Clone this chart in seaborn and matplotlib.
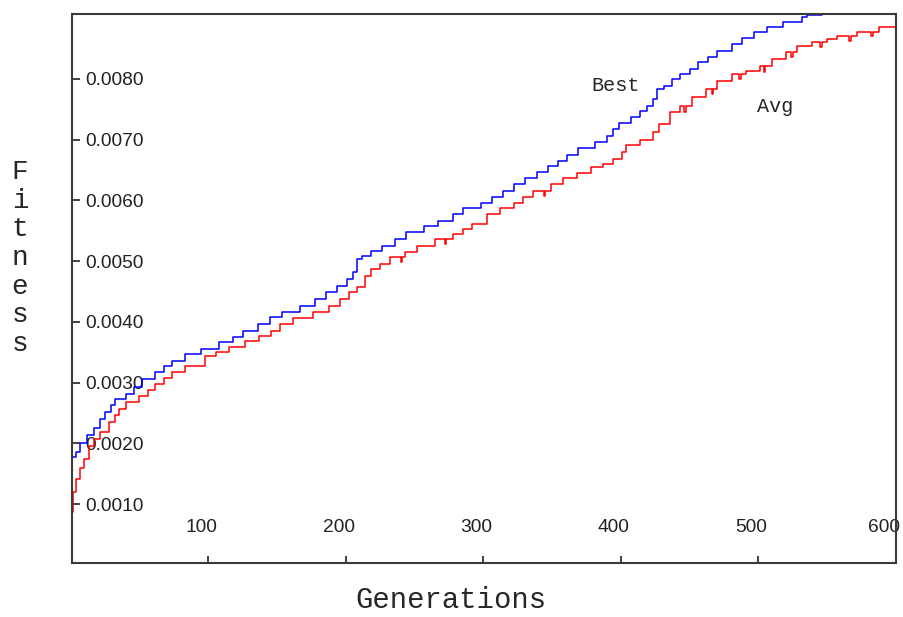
import matplotlib
matplotlib.use("Agg")
import matplotlib.pyplot as plt
import matplotlib.transforms as mtrans
import pandas as pd
import seaborn as sns

# Best fitness per generation (steps)
best_gen = [0, 4, 7, 12, 17, 21, 25, 29, 32, 40, 46, 52, 61, 68, 74, 83, 95, 108, 118,
            125, 136, 145, 154, 167, 178, 186, 194, 201, 205, 208, 212, 218, 226, 236,
            244, 257, 267, 278, 285, 298, 306, 314, 322, 330, 339, 347, 354, 361, 369,
            381, 390, 394, 399, 407, 414, 419, 423, 426, 431, 437, 443, 450, 456, 463,
            470, 481, 488, 497, 506, 518, 532, 535, 546]
best_fit = [0.00177, 0.00185, 0.00200, 0.00213, 0.00226, 0.00240, 0.00252, 0.00263,
            0.00273, 0.00281, 0.00292, 0.00306, 0.00317, 0.00327, 0.00336, 0.00347,
            0.00356, 0.00367, 0.00375, 0.00385, 0.00397, 0.00408, 0.00416, 0.00426,
            0.00438, 0.00449, 0.00459, 0.00471, 0.00482, 0.00504, 0.00509, 0.00517,
            0.00525, 0.00537, 0.00548, 0.00558, 0.00566, 0.00578, 0.00588, 0.00596,
            0.00606, 0.00616, 0.00627, 0.00637, 0.00647, 0.00657, 0.00665, 0.00675,
            0.00686, 0.00696, 0.00706, 0.00718, 0.00728, 0.00738, 0.00747, 0.00756,
            0.00767, 0.00784, 0.00789, 0.00800, 0.00808, 0.00817, 0.00828, 0.00836,
            0.00846, 0.00858, 0.00868, 0.00878, 0.00886, 0.00894, 0.00902, 0.00906,
            0.00906]

# Average fitness per generation (steps, with small dips)
avg_gen = [0, 2, 4, 7, 10, 13, 17, 21, 28, 32, 35, 40, 50, 56, 61, 68, 74, 83, 98, 106,
           115, 127, 137, 146, 152, 162, 176, 188, 196, 202, 208, 214, 218, 225, 232,
           240, 241, 243, 252, 265, 272, 273, 278, 285, 292, 303, 312, 322, 329, 336,
           344, 345, 349, 358, 368, 378, 387, 394, 401, 404, 414, 423, 428, 436, 443,
           446, 447, 452, 462, 466, 467, 470, 481, 486, 487, 491, 501, 504, 505, 510,
           520, 524, 525, 528, 539, 545, 546, 550, 557, 566, 567, 572, 582, 583, 588, 601]
avg_fit = [0.00087, 0.00120, 0.00141, 0.00160, 0.00175, 0.00196, 0.00208, 0.00219,
           0.00235, 0.00247, 0.00257, 0.00268, 0.00278, 0.00288, 0.00298, 0.00307,
           0.00317, 0.00327, 0.00344, 0.00351, 0.00359, 0.00369, 0.00377, 0.00385,
           0.00397, 0.00406, 0.00416, 0.00426, 0.00438, 0.00449, 0.00457, 0.00476,
           0.00487, 0.00495, 0.00507, 0.00498, 0.00507, 0.00515, 0.00525, 0.00537,
           0.00528, 0.00537, 0.00545, 0.00553, 0.00561, 0.00578, 0.00588, 0.00596,
           0.00606, 0.00616, 0.00607, 0.00616, 0.00627, 0.00637, 0.00645, 0.00655,
           0.00660, 0.00668, 0.00680, 0.00692, 0.00700, 0.00713, 0.00726, 0.00746,
           0.00756, 0.00745, 0.00756, 0.00771, 0.00784, 0.00775, 0.00784, 0.00797,
           0.00808, 0.00800, 0.00808, 0.00813, 0.00822, 0.00812, 0.00822, 0.00833,
           0.00845, 0.00836, 0.00845, 0.00855, 0.00861, 0.00852, 0.00861, 0.00866,
           0.00870, 0.00862, 0.00870, 0.00878, 0.00870, 0.00878, 0.00886, 0.00889]

x_ticks = [100, 200, 300, 400, 500, 600]
y_ticks = [0.0010, 0.0020, 0.0030, 0.0040, 0.0050, 0.0060, 0.0070, 0.0080]

sns.set_style("white")
plt.rcParams['font.family'] = ['Liberation Sans', 'DejaVu Sans']
mono = ['Liberation Mono', 'DejaVu Sans Mono']

best = pd.DataFrame({"gen": best_gen, "fitness": best_fit})
avg = pd.DataFrame({"gen": avg_gen, "fitness": avg_fit})

fig = plt.figure(figsize=(9.04, 6.17), dpi=100)
ax = fig.add_axes([72/904, 54/617, 824/904, 549/617])

sns.lineplot(data=best, x="gen", y="fitness", color="#0000ff", lw=1.1,
             drawstyle="steps-post", estimator=None, ax=ax)
sns.lineplot(data=avg, x="gen", y="fitness", color="#ff0000", lw=1.1,
             drawstyle="steps-post", estimator=None, ax=ax)

ax.set_xlim(1, 600)
ax.set_ylim(0.00003, 0.00907)
ax.set_xticks(x_ticks)
ax.set_xticklabels([str(t) for t in x_ticks])
ax.set_yticks(y_ticks)
ax.set_yticklabels([f"{v:.4f}" for v in y_ticks])
ax.set_xlabel("")
ax.set_ylabel("")

ax.tick_params(axis='y', left=True, direction='in', length=6, width=1.2,
               pad=-9.5, labelsize=13.8, colors='#222222')
for lab in ax.get_yticklabels():
    lab.set_ha('left')
ax.tick_params(axis='x', bottom=True, direction='in', length=5, width=1.2,
               pad=-32, labelsize=13.8, colors='#222222')

# x labels sit a little left of their ticks
xlabs = ax.get_xticklabels()
for i, lab in enumerate(xlabs):
    shift = -12 if i == len(xlabs) - 1 else -7
    lab.set_transform(lab.get_transform() +
                      mtrans.ScaledTranslation(shift / 100, 0, fig.dpi_scale_trans))

for s in ax.spines.values():
    s.set_color('#3a3a3a')
    s.set_linewidth(1.5)

ax.text(396, 0.00789, "Best", family=mono, fontsize=14.5, ha='center', va='center')
ax.text(512, 0.00754, "Avg", family=mono, fontsize=14.5, ha='center', va='center')

fig.text(451/904, 1 - 600/617, "Generations", family=mono, fontsize=20.8,
         ha='center', va='center')
fig.text(20/904, 1 - 258/617, "\n".join("Fitness"), family=mono, fontsize=20,
         ha='center', va='center', linespacing=1.13)

fig.savefig("out.png", dpi=100)
